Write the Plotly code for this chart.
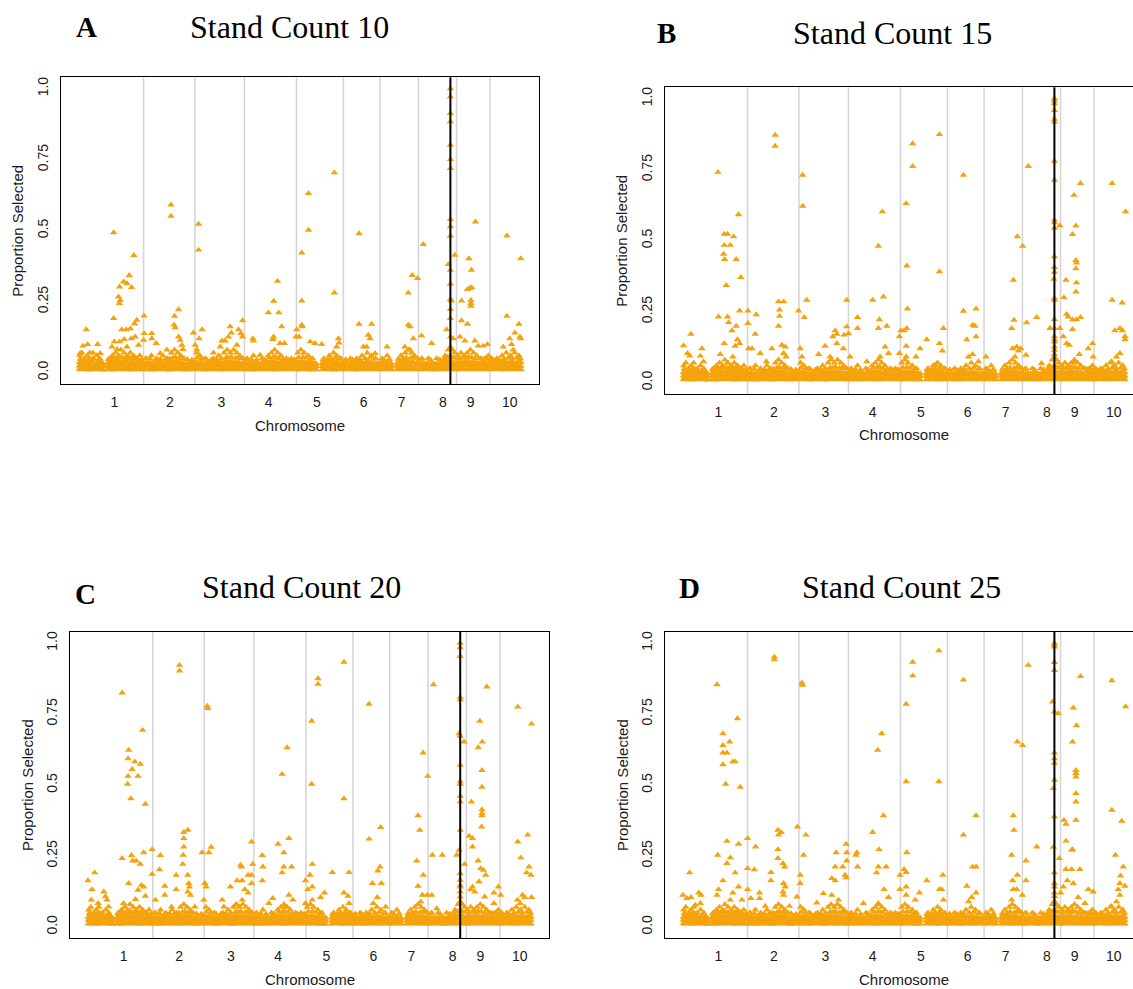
import plotly.graph_objects as go

W, H = 1133, 989
ORANGE = "#F5A30C"

# ---------------- axis / category data ----------------
chrom_len = [308, 244, 235, 247, 223, 174, 182, 181, 159, 150]          # Mb
chrom_names = ["1", "2", "3", "4", "5", "6", "7", "8", "9", "10"]
chrom_tick_pos = [170, 433, 678, 902, 1131, 1353, 1534, 1729, 1861, 2047]  # cumulative Mb
qtl_pos = 1765                                                          # black reference line
y_ticks = [0, 0.25, 0.5, 0.75, 1.0]
y_tick_text = ["0.0", "0.25", "0.5", "0.75", "1.0"]
titles = ["Stand Count 10", "Stand Count 15", "Stand Count 20", "Stand Count 25"]
letters = ["A", "B", "C", "D"]

# ---------------- dense low band (shared marker background), values in per-mille ----------------
band_pos = [3, 13, 24, 34, 45, 56, 67, 78, 89, 100, 110, 117,
            138, 149, 160, 171, 182, 194, 205, 216, 228, 239, 250, 262, 273, 284, 296, 305,
            313, 324, 336, 347, 358, 370, 381, 393, 404, 416, 427, 439, 450, 462, 473, 485, 496, 508, 519, 531, 542, 549,
            556, 567, 579, 590, 602, 613, 625, 636, 648, 659, 671, 682, 694, 705, 717, 728, 740, 751, 763, 774, 784,
            791, 802, 814, 825, 837, 848, 860, 871, 883, 894, 906, 917, 929, 940, 952, 963, 975, 986, 998, 1009, 1021, 1030,
            1038, 1049, 1061, 1072, 1084, 1095, 1107, 1118, 1128,
            1156, 1167, 1179, 1190, 1202, 1213, 1225, 1236, 1248, 1255,
            1261, 1272, 1284, 1295, 1307, 1318, 1330, 1341, 1353, 1364, 1376, 1387, 1399, 1410, 1422, 1429,
            1435, 1446, 1458, 1469, 1481, 1485,
            1512, 1523, 1535, 1546, 1558, 1569, 1581, 1592, 1604, 1611,
            1617, 1628, 1640, 1651, 1663, 1674, 1686, 1697, 1709, 1720, 1732, 1743, 1755, 1766, 1778, 1789,
            1798, 1809, 1821, 1832, 1844, 1855, 1867, 1878, 1890, 1901, 1913, 1924, 1936, 1947,
            1957, 1968, 1980, 1991, 2003, 2014, 2026, 2037, 2049, 2060, 2072, 2083, 2095, 2100]
band_lo = [12, 11, 13, 12, 10, 12, 11, 13, 12, 11, 12, 10,
           11, 12, 10, 13, 12, 11, 12, 13, 11, 12, 10, 12, 13, 11, 12, 11,
           12, 11, 12, 10, 13, 11, 12, 12, 11, 13, 10, 12, 11, 12, 13, 11, 12, 10, 12, 11, 12, 13,
           12, 11, 13, 12, 10, 12, 11, 13, 12, 11, 12, 10, 12, 13, 11, 12, 12, 11, 13, 12, 11,
           11, 12, 12, 10, 13, 11, 12, 11, 13, 12, 11, 12, 10, 12, 13, 11, 12, 12, 11, 12, 13, 11,
           12, 11, 13, 12, 11, 12, 10, 12, 11,
           11, 12, 13, 11, 12, 10, 12, 13, 11, 12,
           12, 11, 12, 13, 10, 12, 11, 12, 13, 11, 12, 12, 11, 13, 12, 11,
           12, 11, 13, 12, 11, 12,
           11, 12, 13, 11, 12, 12, 11, 13, 12, 11,
           12, 11, 12, 13, 11, 12, 10, 12, 11, 13, 12, 11, 12, 13, 12, 11,
           12, 11, 13, 12, 11, 12, 13, 11, 12, 12, 11, 13, 12, 11,
           11, 12, 12, 13, 11, 12, 11, 13, 12, 11, 12, 13, 12, 11]
band_mid = [24, 22, 25, 23, 24, 21, 23, 25, 22, 24, 23, 21,
            23, 25, 22, 24, 26, 23, 25, 24, 22, 25, 23, 24, 22, 25, 23, 22,
            22, 24, 23, 21, 24, 22, 25, 23, 21, 24, 22, 26, 25, 24, 23, 25, 22, 21, 23, 22, 24, 23,
            24, 23, 25, 22, 21, 23, 22, 24, 23, 25, 24, 22, 25, 26, 24, 25, 23, 24, 25, 23, 22,
            23, 22, 24, 21, 22, 23, 21, 22, 24, 25, 24, 26, 25, 24, 23, 24, 22, 23, 21, 22, 23, 24,
            25, 24, 26, 25, 23, 24, 22, 23, 22,
            22, 23, 24, 23, 25, 24, 25, 23, 22, 23,
            22, 23, 21, 22, 23, 24, 25, 23, 22, 24, 25, 23, 22, 21, 23, 22,
            22, 23, 24, 22, 23, 21,
            23, 24, 25, 26, 25, 24, 25, 23, 24, 22,
            22, 21, 23, 22, 21, 22, 23, 21, 22, 23, 24, 25, 27, 26, 25, 23,
            24, 25, 24, 26, 25, 24, 25, 23, 24, 22, 23, 24, 22, 23,
            22, 23, 22, 24, 23, 25, 24, 23, 25, 24, 23, 25, 24, 23]
band_hi = [35, 33, 38, 31, 37, 34, 36, 32, 35, 33, 37, 31,
           33, 37, 34, 39, 36, 38, 35, 40, 37, 34, 38, 35, 33, 36, 32, 34,
           32, 35, 33, 31, 34, 32, 37, 33, 31, 34, 35, 38, 37, 39, 36, 37, 33, 31, 34, 32, 36, 34,
           37, 35, 38, 33, 31, 32, 33, 35, 34, 36, 37, 35, 38, 39, 37, 38, 36, 37, 35, 34, 33,
           34, 32, 35, 31, 33, 34, 31, 33, 36, 38, 37, 39, 38, 36, 34, 35, 33, 34, 31, 33, 34, 36,
           38, 37, 39, 37, 35, 36, 33, 34, 32,
           33, 35, 34, 35, 37, 36, 38, 35, 33, 34,
           32, 33, 31, 33, 34, 36, 37, 35, 33, 36, 37, 34, 33, 31, 33, 32,
           33, 34, 35, 33, 32, 31,
           34, 36, 38, 39, 37, 36, 38, 35, 34, 33,
           32, 31, 33, 32, 31, 33, 32, 31, 33, 34, 35, 37, 40, 39, 37, 34,
           36, 37, 35, 38, 37, 36, 37, 34, 35, 33, 34, 35, 33, 34,
           33, 34, 33, 35, 34, 36, 37, 35, 36, 37, 34, 36, 37, 35]
top_pos = [8, 30, 50, 62, 95, 142, 155, 168, 180, 198,
           210, 222, 235, 248, 258, 270, 282, 300, 318, 340,
           365, 388, 410, 432, 448, 460, 478, 492, 515, 538,
           562, 585, 608, 630, 655, 678, 700, 712, 725, 745,
           758, 772, 795, 820, 845, 880, 905, 925, 937, 950,
           970, 995, 1025, 1045, 1065, 1080, 1100, 1160, 1185, 1200,
           1220, 1240, 1268, 1300, 1335, 1360, 1382, 1405, 1450, 1475,
           1518, 1540, 1555, 1575, 1590, 1600, 1625, 1670, 1715, 1735,
           1750, 1760, 1770, 1782, 1805, 1825, 1840, 1850, 1865, 1880,
           1900, 1920, 1940, 1965, 1995, 2020, 2040, 2058, 2080, 2098]
top_val = [48, 46, 50, 47, 45, 47, 49, 52, 50, 54,
           51, 49, 53, 50, 48, 52, 47, 46, 50, 48,
           45, 47, 46, 49, 52, 54, 51, 49, 47, 45,
           52, 50, 46, 45, 47, 50, 53, 52, 55, 51,
           53, 50, 46, 47, 45, 46, 52, 55, 53, 50,
           47, 45, 46, 53, 55, 52, 48, 45, 47, 49,
           51, 48, 46, 45, 47, 50, 52, 48, 46, 47,
           48, 50, 53, 51, 55, 52, 47, 45, 46, 49,
           54, 56, 55, 52, 50, 53, 51, 55, 53, 49,
           50, 47, 48, 46, 47, 49, 52, 50, 52, 49]
upper_pos = [5, 15, 28, 40, 52, 70, 85, 100,
             145, 160, 175, 190, 200, 215, 230, 245, 260, 275, 290,
             320, 345, 370, 400, 420, 440, 455, 470, 485, 500,
             560, 575, 600, 640, 665, 690, 705, 720, 735, 750, 765, 780,
             800, 830, 870, 900, 915, 930, 945, 960, 985, 1010,
             1040, 1055, 1070, 1090, 1110, 1165, 1190, 1210, 1225, 1245,
             1290, 1320, 1345, 1370, 1390, 1410,
             1440, 1465, 1530, 1550, 1565, 1580, 1595, 1610,
             1630, 1660, 1700, 1740, 1755, 1765, 1775, 1785,
             1800, 1815, 1830, 1845, 1860, 1875, 1890, 1910, 1930, 1945,
             1960, 1985, 2010, 2030, 2050, 2070, 2090]
upper_val = [60, 70, 50, 60, 70, 50, 60, 50,
             50, 60, 70, 60, 80, 70, 60, 70, 60, 50, 60,
             50, 60, 50, 60, 50, 70, 80, 70, 60, 50,
             70, 60, 50, 50, 60, 70, 80, 70, 80, 70, 60, 50,
             50, 60, 50, 60, 70, 80, 70, 60, 50, 50,
             70, 80, 70, 60, 50, 50, 60, 70, 60, 50,
             50, 50, 60, 70, 60, 50,
             50, 60, 60, 70, 80, 70, 60, 50,
             50, 50, 50, 60, 80, 90, 80, 70,
             60, 70, 60, 70, 80, 70, 60, 50, 50, 60,
             50, 50, 60, 70, 60, 70, 60]

# ---------------- elevated markers per panel: (cumulative Mb, proportion selected) ----------------
a_points = [(36, .152), (20, .094), (42, .10), (90, .10), (68, .07), (7, .068), (102, .068),
            (166, .493), (262, .413), (240, .343), (213, .321), (229, .314), (251, .30), (194, .302), (189, .267),
            (197, .255), (193, .244), (166, .191), (276, .185), (265, .173), (205, .152), (226, .152), (245, .155),
            (250, .12), (268, .126), (169, .109), (194, .109), (216, .117), (158, .091), (182, .082), (229, .091), (284, .097),
            (310, .20), (308, .115), (438, .591), (438, .551), (474, .222), (455, .199), (453, .168), (458, .159),
            (474, .126), (482, .115), (490, .097), (495, .082), (311, .138), (347, .138), (347, .12), (368, .103),
            (419, .08), (387, .068),
            (569, .523), (569, .432), (586, .152), (545, .14), (572, .12), (553, .097), (561, .08), (640, .07),
            (680, .112), (719, .162), (725, .14), (711, .126), (695, .112), (778, .183), (759, .152), (770, .138),
            (778, .126), (672, .091), (751, .097),
            (827, .12), (830, .112), (861, .062), (901, .211), (926, .252), (944, .322), (950, .211), (964, .162),
            (925, .126), (922, .117), (956, .103), (977, .103), (1035, .152), (1032, .126),
            (1059, .422), (1091, .631), (1091, .502), (1059, .253), (1059, .168), (1062, .162), (1214, .704),
            (1214, .281), (1046, .126), (1099, .109), (1122, .103), (1154, .10), (1233, .12), (1236, .105), (1225, .091),
            (1331, .49), (1331, .171), (1391, .171), (1375, .132), (1383, .12), (1352, .091), (1367, .091), (1407, .068),
            (1464, .091), (1565, .281), (1584, .343), (1609, .332), (1636, .452), (1565, .168), (1573, .162),
            (1589, .12), (1628, .13), (1676, .103), (1549, .091), (1573, .08),
            (1765, 1.0), (1765, .971), (1765, .913), (1765, .884), (1765, .801), (1765, .751), (1765, .719),
            (1765, .540), (1765, .514), (1765, .481), (1765, .361), (1765, .312), (1765, .258), (1765, .223),
            (1765, .191), (1765, .126), (1786, .414), (1755, .381), (1770, .253), (1747, .152), (1778, .12),
            (1818, .253), (1853, .402), (1865, .361), (1884, .531), (1846, .293), (1856, .297), (1865, .30),
            (1862, .255), (1862, .244), (1862, .234), (1818, .183), (1846, .171), (1810, .126), (1834, .112),
            (1881, .112), (1897, .094), (1921, .094), (1941, .10),
            (2033, .482), (2099, .402), (2033, .199), (2090, .171), (2071, .14), (2095, .126), (2099, .12),
            (2047, .12), (2016, .091), (2055, .10), (2063, .08)]

b_points = [(39, .171), (4, .13), (23, .103), (33, .094), (91, .12), (84, .094), (99, .074),
            (167, .741), (265, .592), (197, .523), (213, .523), (242, .514), (197, .484), (226, .484), (194, .453),
            (199, .434), (254, .434), (276, .371), (207, .343), (170, .232), (213, .232), (218, .212), (270, .253),
            (254, .199), (234, .183), (260, .152), (270, .138), (249, .129), (197, .138), (178, .10), (213, .07), (238, .091),
            (310, .253), (310, .209), (349, .24), (344, .171), (313, .12), (329, .12), (368, .103), (397, .074),
            (423, .12), (439, .872), (439, .833), (455, .285), (479, .285), (460, .256), (460, .234), (455, .199),
            (471, .132), (487, .126), (479, .103), (491, .091),
            (569, .731), (570, .622), (550, .253), (577, .23), (589, .291), (558, .12), (566, .091), (645, .10),
            (676, .129), (713, .162), (724, .183), (732, .171), (779, .291), (779, .197), (787, .173), (766, .168),
            (830, .23), (830, .191), (763, .12), (732, .138), (700, .091), (795, .091),
            (902, .291), (929, .481), (948, .602), (953, .302), (934, .222), (929, .191), (969, .199), (961, .126),
            (937, .091), (977, .103), (874, .074),
            (1061, .631), (1092, .842), (1092, .762), (1064, .411), (1067, .26), (1036, .183), (1051, .183),
            (1064, .191), (1029, .162), (1061, .129), (1029, .103), (1061, .091), (1108, .091), (1127, .12),
            (1159, .152), (1219, .874), (1219, .391), (1219, .138), (1238, .191), (1233, .112), (1198, .062),
            (1333, .731), (1333, .252), (1393, .26), (1349, .152), (1377, .203), (1388, .199), (1393, .162),
            (1377, .10), (1357, .091), (1440, .091), (1404, .074),
            (1570, .361), (1589, .514), (1614, .481), (1573, .22), (1562, .191), (1633, .211), (1641, .762),
            (1681, .23), (1567, .12), (1586, .126), (1605, .12), (1594, .112), (1630, .097), (1578, .091), (1704, .068),
            (1765, 1.0), (1765, .992), (1765, .983), (1765, .959), (1765, .927), (1765, .918), (1765, .78),
            (1765, .713), (1765, .572), (1765, .564), (1765, .544), (1765, .444), (1765, .406), (1765, .389),
            (1765, .297), (1765, .291), (1765, .223), (1765, .191), (1765, .162), (1765, .152), (1765, .144),
            (1765, .126), (1765, .115), (1765, .10), (1765, .085), (1791, .553), (1762, .365), (1744, .191), (1791, .191),
            (1820, .361), (1810, .30), (1823, .241), (1831, .232), (1807, .162), (1823, .138), (1835, .132),
            (1851, .188), (1851, .522), (1858, .66), (1867, .552), (1867, .431), (1870, .422), (1867, .402),
            (1870, .352), (1867, .32), (1851, .222), (1870, .222), (1889, .23), (1889, .702), (1883, .10),
            (1926, .12), (1946, .138), (1949, .091), (1862, .074),
            (2039, .702), (2103, .602), (2039, .291), (2087, .281), (2052, .183), (2076, .191), (2088, .183),
            (2100, .162), (2100, .152), (2060, .091), (2076, .103), (2036, .074)]

c_points = [(1, .163), (33, .191), (20, .132), (17, .095), (76, .124), (84, .107), (91, .095), (49, .083), (99, .071),
            (163, .825), (260, .693), (194, .623), (191, .593), (223, .582), (249, .574), (210, .555), (191, .531),
            (238, .531), (189, .503), (204, .452), (273, .433), (163, .242), (207, .252), (213, .233), (229, .233),
            (249, .221), (265, .262), (305, .273), (305, .186), (344, .252), (340, .202), (254, .147), (265, .141),
            (238, .13), (194, .154), (273, .109), (226, .097), (170, .083), (321, .095),
            (435, .922), (435, .902), (455, .333), (474, .341), (455, .312), (455, .282), (452, .253), (450, .221),
            (419, .183), (419, .132), (365, .144), (365, .112), (397, .071), (474, .183), (479, .154), (482, .141),
            (474, .124), (487, .112), (507, .071),
            (566, .778), (569, .77), (542, .262), (574, .262), (585, .281), (555, .154), (561, .141), (550, .095),
            (637, .095), (645, .071), (676, .141), (708, .163), (724, .218), (729, .212), (732, .163), (744, .132),
            (760, .183), (776, .183), (760, .12), (776, .3), (782, .221), (776, .154), (732, .095), (700, .077),
            (827, .252), (830, .212), (827, .163), (858, .083), (877, .101),
            (902, .292), (921, .538), (945, .632), (953, .312), (929, .262), (929, .212), (921, .191), (966, .212),
            (953, .112), (972, .095), (937, .071),
            (1061, .725), (1061, .503), (1091, .875), (1091, .855), (1214, .933), (1214, .452), (1064, .221),
            (1053, .183), (1032, .163), (1064, .141), (1043, .132), (1032, .083), (1064, .095), (1103, .104),
            (1122, .12), (1159, .192), (1238, .192), (1214, .12), (1233, .109), (1238, .083),
            (1333, .785), (1333, .31), (1388, .351), (1375, .198), (1385, .212), (1349, .154), (1391, .154),
            (1372, .104), (1353, .083), (1412, .071),
            (1565, .392), (1573, .341), (1589, .613), (1611, .531), (1559, .233), (1590, .183), (1565, .144),
            (1586, .112), (1609, .112), (1630, .112), (1633, .253), (1680, .253), (1638, .854), (1654, .065), (1578, .089),
            (1765, 1.0), (1765, .984), (1765, .953), (1765, .81), (1765, .801), (1765, .672), (1765, .57),
            (1765, .512), (1765, .503), (1765, .461), (1765, .441), (1765, .341), (1765, .188), (1765, .165),
            (1765, .147), (1765, .141), (1765, .124), (1765, .106), (1760, .681), (1783, .652), (1760, .271),
            (1749, .253), (1786, .221), (1807, .32), (1823, .312), (1823, .282), (1818, .441), (1850, .632),
            (1858, .725), (1870, .652), (1891, .846), (1868, .552), (1868, .493), (1868, .413), (1868, .40),
            (1868, .392), (1866, .353), (1850, .233), (1862, .206), (1875, .2), (1886, .183), (1854, .16),
            (1823, .141), (1815, .132), (1834, .124), (1881, .106), (1925, .12), (1946, .141), (1957, .112), (1925, .083),
            (2038, .775), (2103, .715), (2038, .3), (2085, .324), (2052, .244), (2091, .212), (2079, .191),
            (2100, .183), (2060, .112), (2071, .104), (2103, .104), (2036, .095), (2049, .083)]

d_points = [(33, .191), (1, .112), (20, .101), (39, .104), (76, .12), (87, .112), (84, .083), (60, .077),
            (163, .854), (260, .734), (191, .681), (223, .652), (191, .64), (191, .613), (210, .613), (238, .582),
            (249, .582), (191, .572), (204, .503), (273, .493), (210, .302), (265, .292), (166, .253), (226, .244),
            (210, .224), (191, .163), (249, .191), (265, .141), (238, .12), (170, .132), (163, .112), (226, .095), (281, .095),
            (308, .312), (346, .282), (308, .206), (340, .202), (308, .132), (324, .101), (365, .12), (365, .101),
            (392, .073), (419, .192), (419, .163), (435, .951), (435, .942), (452, .341), (468, .333), (455, .324),
            (452, .273), (452, .242), (476, .224), (484, .212), (479, .154), (487, .141), (476, .124), (479, .112), (507, .073),
            (566, .86), (569, .852), (545, .353), (585, .324), (574, .253), (558, .183), (558, .154), (542, .106),
            (637, .085), (668, .118), (708, .171), (724, .163), (724, .212), (729, .262), (760, .212), (776, .292),
            (779, .262), (779, .233), (771, .183), (776, .174), (827, .262), (830, .212), (823, .253), (708, .112),
            (740, .095), (858, .083),
            (902, .333), (926, .623), (945, .681), (953, .392), (932, .273), (929, .212), (921, .191), (966, .212),
            (956, .132), (977, .104), (929, .083),
            (1061, .785), (1092, .933), (1092, .885), (1061, .512), (1064, .262), (1051, .203), (1032, .183),
            (1061, .192), (1061, .141), (1032, .132), (1061, .112), (1104, .095), (1124, .12), (1159, .163),
            (1216, .973), (1216, .512), (1235, .183), (1219, .132), (1230, .132), (1238, .095),
            (1333, .87), (1333, .324), (1393, .392), (1377, .212), (1393, .212), (1349, .144), (1372, .104),
            (1393, .12), (1357, .089),
            (1570, .392), (1573, .341), (1562, .253), (1589, .652), (1614, .64), (1630, .233), (1589, .183),
            (1567, .163), (1586, .132), (1570, .132), (1630, .163), (1613, .112), (1562, .095), (1641, .922), (1681, .282),
            (1765, .999), (1765, .993), (1765, .987), (1765, .932), (1765, .904), (1765, .758), (1765, .613),
            (1765, .593), (1765, .577), (1765, .517), (1765, .389), (1765, .191), (1765, .154), (1765, .141),
            (1765, .12), (1765, .108), (1756, .793), (1783, .752), (1760, .488), (1760, .281),
            (1788, .242), (1810, .376), (1820, .362), (1820, .303), (1820, .203), (1826, .163), (1847, .203),
            (1851, .273), (1851, .652), (1855, .772), (1870, .709), (1867, .552), (1867, .541), (1867, .529),
            (1867, .471), (1867, .441), (1867, .376), (1847, .271), (1886, .203), (1889, .883), (1855, .154),
            (1807, .141), (1794, .12), (1878, .104), (1926, .132), (1949, .124), (1910, .083),
            (2038, .868), (2103, .776), (2038, .412), (2085, .373), (2055, .253), (2092, .212), (2079, .18),
            (2076, .154), (2100, .144), (2068, .132), (2076, .112), (2036, .073), (2060, .089)]

panel_points = [a_points, b_points, c_points, d_points]

# ---------------- layout geometry (pixel frames of each panel) ----------------
frames = [(61, 77.3, 539.3, 384.0), (665, 87.3, 1143.3, 394.0),
          (70, 631.7, 549.3, 938.3), (665, 631.7, 1143.3, 938.3)]
title_xy = [(289, 27.5), (892, 32.5), (301, 587), (901, 587.2)]
letter_xy = [(86.5, 27.5), (666.5, 32.5), (85.5, 594), (689, 587.5)]
X_FULL = (-84.1, 2187.1)
Y_RANGE = (-0.04, 1.04)

# cumulative chromosome boundaries
bounds = []
acc = 0
for L in chrom_len[:-1]:
    acc += L
    bounds.append(acc)

band_x = band_pos + band_pos + band_pos + top_pos + upper_pos
band_y = [v / 1000 for v in band_lo + band_mid + band_hi + top_val + upper_val]

fig = go.Figure()
shapes, annotations = [], []
TICKFONT = dict(family="Liberation Sans, Arial, sans-serif", size=14, color="#1a1a1a")

for i in range(4):
    n = "" if i == 0 else str(i + 1)
    xa, ya = "x" + n, "y" + n
    x0, y0, x1, y1 = frames[i]
    x1c = min(x1, W)
    xr_right = X_FULL[0] + (x1c - x0) / (x1 - x0) * (X_FULL[1] - X_FULL[0])
    pts = panel_points[i]
    xs = band_x + [p[0] for p in pts]
    ys = band_y + [p[1] for p in pts]
    fig.add_trace(go.Scatter(
        x=xs, y=ys, mode="markers", xaxis=xa, yaxis=ya, hoverinfo="skip", showlegend=False,
        marker=dict(symbol="triangle-up", size=6.6, color=ORANGE, line=dict(width=0))))
    cut = x1 > W
    fig.layout["xaxis" + n] = dict(
        domain=[x0 / W, x1c / W], range=[X_FULL[0], xr_right], anchor=ya,
        showgrid=False, zeroline=False, showline=True, linecolor="black", linewidth=1, mirror=True,
        ticks="", tickvals=chrom_tick_pos, ticktext=chrom_names, tickfont=TICKFONT, ticklabelstandoff=5)
    fig.layout["yaxis" + n] = dict(
        domain=[1 - y1 / H, 1 - y0 / H], range=list(Y_RANGE), anchor=xa,
        showgrid=False, zeroline=False, showline=True, linecolor="black", linewidth=1, mirror=not cut,
        ticks="", tickvals=y_ticks, ticktext=y_tick_text, tickangle=-90, tickfont=TICKFONT, ticklabelstandoff=6)
    for b in bounds:
        shapes.append(dict(type="line", xref=xa, yref=ya + " domain", x0=b, x1=b, y0=0, y1=1,
                           line=dict(color="#D4D4D4", width=1.5), layer="below"))
    shapes.append(dict(type="line", xref=xa, yref=ya + " domain", x0=qtl_pos, x1=qtl_pos, y0=0, y1=1,
                       line=dict(color="black", width=2), layer="above"))
    # titles and labels
    tx, ty = title_xy[i]
    annotations.append(dict(text=titles[i], x=tx / W, y=1 - ty / H, xref="paper", yref="paper",
                            xanchor="center", yanchor="middle", showarrow=False,
                            font=dict(family="Liberation Serif, Times New Roman, serif", size=32, color="black")))
    lx, ly = letter_xy[i]
    annotations.append(dict(text="<b>" + letters[i] + "</b>", x=lx / W, y=1 - ly / H, xref="paper", yref="paper",
                            xanchor="center", yanchor="middle", showarrow=False,
                            font=dict(family="Liberation Serif, Times New Roman, serif", size=29, color="black")))
    annotations.append(dict(text="Proportion Selected", x=(x0 - 43) / W, y=1 - (y0 + y1) / 2 / H,
                            xref="paper", yref="paper", xanchor="center", yanchor="middle", textangle=-90,
                            showarrow=False, font=dict(family="Liberation Sans, Arial, sans-serif", size=15, color="#1a1a1a")))
    annotations.append(dict(text="Chromosome", x=(x0 + x1) / 2 / W, y=1 - (y1 + 41) / H,
                            xref="paper", yref="paper", xanchor="center", yanchor="middle",
                            showarrow=False, font=dict(family="Liberation Sans, Arial, sans-serif", size=15, color="#1a1a1a")))

fig.update_layout(width=W, height=H, margin=dict(l=0, r=0, t=0, b=0), autosize=False,
                  paper_bgcolor="white", plot_bgcolor="white", shapes=shapes, annotations=annotations,
                  showlegend=False)
fig.write_html("out.html")
